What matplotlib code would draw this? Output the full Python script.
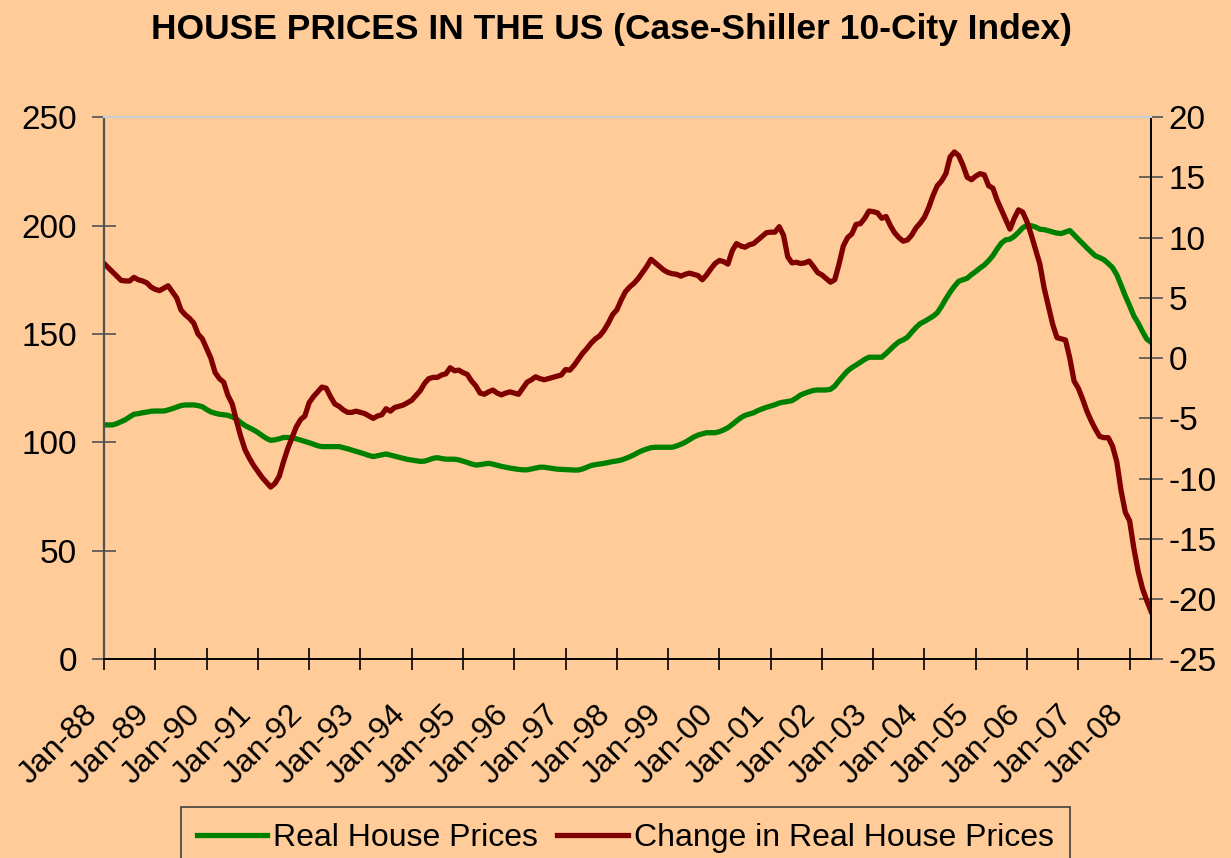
import matplotlib
matplotlib.use('Agg')
import matplotlib.pyplot as plt
import matplotlib.transforms as mtransforms
import numpy as np
import pandas as pd

# monthly observations, Jan-88 .. Jun-08
months = pd.date_range('1988-01-01', periods=246, freq='MS')
tick_label = [d.strftime('%b-%y') for d in months[::12]]

# Real House Prices (left axis)
real_price = [
    108.1, 108.1, 108.1, 108.7, 109.6, 110.5, 111.8, 113.0, 113.3, 113.7, 114.0, 114.4,  # 1988
    114.5, 114.5, 114.5, 115.0, 115.6, 116.3, 117.0, 117.3, 117.3, 117.3, 117.0, 116.5,  # 1989
    115.2, 114.1, 113.5, 113.0, 112.8, 112.5, 111.8, 110.8, 109.2, 107.8, 106.8, 105.8,  # 1990
    104.6, 103.2, 101.9, 101.0, 101.2, 101.7, 102.3, 102.3, 102.1, 101.7, 101.1, 100.5,  # 1991
    99.9, 99.2, 98.5, 98.1, 98.1, 98.1, 98.1, 98.1, 97.6, 97.1, 96.5, 95.9,  # 1992
    95.3, 94.7, 94.0, 93.5, 93.9, 94.3, 94.7, 94.2, 93.7, 93.2, 92.7, 92.2,  # 1993
    91.9, 91.6, 91.3, 91.4, 92.0, 92.7, 93.0, 92.6, 92.3, 92.3, 92.3, 92.0,  # 1994
    91.4, 90.8, 90.1, 89.6, 89.8, 90.1, 90.4, 90.0, 89.5, 89.0, 88.6, 88.2,  # 1995
    87.9, 87.6, 87.4, 87.4, 87.8, 88.2, 88.6, 88.6, 88.3, 88.0, 87.7, 87.6,  # 1996
    87.5, 87.4, 87.3, 87.3, 87.8, 88.6, 89.4, 89.8, 90.1, 90.4, 90.8, 91.2,  # 1997
    91.5, 91.9, 92.6, 93.4, 94.3, 95.4, 96.3, 97.0, 97.6, 97.8, 97.8, 97.8,  # 1998
    97.8, 97.8, 98.4, 99.2, 100.1, 101.3, 102.5, 103.4, 104.0, 104.5, 104.5, 104.5,  # 1999
    105.0, 105.8, 106.8, 108.3, 109.9, 111.4, 112.5, 113.1, 113.7, 114.7, 115.5, 116.2,  # 2000
    116.8, 117.4, 118.2, 118.6, 118.9, 119.3, 120.5, 121.9, 122.7, 123.4, 124.0, 124.2,  # 2001
    124.2, 124.2, 124.5, 126.0, 128.5, 130.8, 133.0, 134.5, 135.7, 137.0, 138.3, 139.3,  # 2002
    139.3, 139.3, 139.3, 141.0, 142.9, 144.8, 146.4, 147.3, 148.5, 150.8, 153.0, 154.8,  # 2003
    155.8, 157.0, 158.2, 159.8, 162.8, 166.2, 169.3, 172.0, 174.3, 175.0, 175.7, 177.4,  # 2004
    178.8, 180.4, 181.8, 183.8, 186.1, 189.2, 191.9, 193.4, 193.7, 195.0, 196.9, 199.0,  # 2005
    200.1, 199.9, 199.3, 198.3, 198.1, 197.6, 197.0, 196.5, 196.3, 197.0, 197.7, 195.7,  # 2006
    193.7, 191.7, 189.7, 187.8, 186.0, 185.2, 184.2, 182.5, 180.6, 177.3, 172.5, 167.5,  # 2007
    163.0, 158.3, 155.0, 151.2, 147.7, 146.2,  # 2008
]

# Change in Real House Prices (right axis)
price_change = [
    7.85, 7.5, 7.15, 6.8, 6.45, 6.4, 6.4, 6.7, 6.5, 6.4, 6.25, 5.9,  # 1988
    5.7, 5.6, 5.8, 6.0, 5.5, 5.0, 4.0, 3.6, 3.3, 2.9, 2.0, 1.6,  # 1989
    0.8, 0.0, -1.2, -1.7, -2.0, -3.1, -3.8, -5.2, -6.5, -7.6, -8.3, -8.9,  # 1990
    -9.4, -9.9, -10.3, -10.7, -10.4, -9.8, -8.6, -7.5, -6.6, -5.7, -5.1, -4.8,  # 1991
    -3.7, -3.2, -2.8, -2.4, -2.5, -3.2, -3.8, -4.0, -4.3, -4.5, -4.5, -4.4,  # 1992
    -4.5, -4.6, -4.8, -5.0, -4.8, -4.7, -4.2, -4.4, -4.1, -4.0, -3.9, -3.7,  # 1993
    -3.5, -3.1, -2.7, -2.1, -1.7, -1.6, -1.6, -1.4, -1.3, -0.8, -1.05, -1.0,  # 1994
    -1.2, -1.35, -1.9, -2.3, -2.9, -3.0, -2.8, -2.65, -2.9, -3.05, -2.9, -2.8,  # 1995
    -2.9, -3.0, -2.5, -2.0, -1.8, -1.55, -1.7, -1.8, -1.7, -1.6, -1.5, -1.4,  # 1996
    -0.95, -1.0, -0.6, -0.1, 0.4, 0.8, 1.25, 1.6, 1.85, 2.3, 2.9, 3.6,  # 1997
    4.0, 4.8, 5.5, 5.9, 6.2, 6.6, 7.1, 7.6, 8.2, 7.9, 7.6, 7.3,  # 1998
    7.1, 7.0, 6.95, 6.8, 6.95, 7.05, 6.95, 6.85, 6.5, 6.9, 7.4, 7.85,  # 1999
    8.1, 8.0, 7.8, 8.9, 9.5, 9.3, 9.2, 9.4, 9.5, 9.8, 10.1, 10.4,  # 2000
    10.45, 10.45, 10.9, 10.2, 8.4, 7.9, 7.95, 7.85, 7.9, 8.05, 7.6, 7.1,  # 2001
    6.9, 6.6, 6.3, 6.5, 7.8, 9.3, 10.0, 10.3, 11.1, 11.15, 11.6, 12.2,  # 2002
    12.15, 12.05, 11.6, 11.75, 11.0, 10.4, 10.0, 9.7, 9.8, 10.2, 10.8, 11.2,  # 2003
    11.7, 12.5, 13.5, 14.3, 14.7, 15.3, 16.7, 17.1, 16.8, 16.0, 15.0, 14.8,  # 2004
    15.1, 15.3, 15.2, 14.3, 14.1, 13.1, 12.3, 11.5, 10.7, 11.6, 12.3, 12.1,  # 2005
    11.3, 10.2, 9.0, 7.8, 5.8, 4.3, 2.8, 1.7, 1.6, 1.5, 0.0, -1.9,  # 2006
    -2.5, -3.4, -4.4, -5.2, -5.9, -6.5, -6.6, -6.6, -7.3, -8.6, -11.0, -12.8,  # 2007
    -13.5, -15.8, -17.7, -19.1, -20.1, -21.0,  # 2008
]

x = np.arange(len(months))
bg = '#FFCC99'

plt.rcParams['font.family'] = ['Liberation Sans', 'DejaVu Sans']
plt.rcParams['axes.unicode_minus'] = False

fig = plt.figure(figsize=(12.31, 8.58), dpi=100, facecolor=bg)
ax = fig.add_axes([0.0845, 0.2314, 0.8505, 0.6322], facecolor=bg)
ax2 = ax.twinx()

l1, = ax.plot(x, real_price, color='#008000', lw=3.8, solid_joinstyle='round',
              label='Real House Prices')
l2, = ax2.plot(x, price_change, color='#800000', lw=3.8, solid_joinstyle='round',
               label='Change in Real House Prices')

ax.set_xlim(0, len(months) - 1)
ax.set_ylim(0, 250)
ax.set_yticks(np.arange(0, 251, 50))
ax2.set_ylim(-25, 20)
ax2.set_yticks(np.arange(-25, 21, 5))

ax.set_xticks(x[::12])
ax.set_xticklabels(tick_label, rotation=45, ha='right', va='top')
offset = mtransforms.ScaledTranslation(-14 / 100, 0, fig.dpi_scale_trans)
for lab in ax.get_xticklabels():
    lab.set_transform(lab.get_transform() + offset)

ax.tick_params(axis='x', direction='inout', length=16, width=1.2, color='black',
               labelsize=23, pad=21)
ax.tick_params(axis='y', direction='inout', length=17, width=1.2, color='#505050',
               labelsize=24, pad=11)
ax2.tick_params(axis='y', direction='inout', length=17, width=1.2, color='#505050',
                labelsize=24, pad=4)

for a in (ax, ax2):
    a.spines['top'].set_color('#C8CCD4')
    a.spines['top'].set_linewidth(1.5)
    a.spines['left'].set_color('#505050')
    a.spines['left'].set_linewidth(1.5)
    a.spines['right'].set_color('black')
    a.spines['right'].set_linewidth(1.2)
    a.spines['bottom'].set_color('black')
    a.spines['bottom'].set_linewidth(1.2)

fig.text(0.497, 0.966, 'HOUSE PRICES IN THE US (Case-Shiller 10-City Index)',
         ha='center', va='center', fontsize=25.5, fontweight='bold')

leg = fig.legend(handles=[l1, l2], loc='upper center', bbox_to_anchor=(0.508, 0.059),
                 ncol=2, fontsize=23, frameon=True, fancybox=False, handlelength=2.2,
                 handletextpad=0.2, columnspacing=0.6, borderpad=0.5, borderaxespad=0)
leg.get_frame().set_facecolor(bg)
leg.get_frame().set_edgecolor('#404040')
leg.get_frame().set_linewidth(1.2)
leg.get_frame().set_alpha(1)

fig.savefig('out.png', dpi=100, facecolor=bg)
